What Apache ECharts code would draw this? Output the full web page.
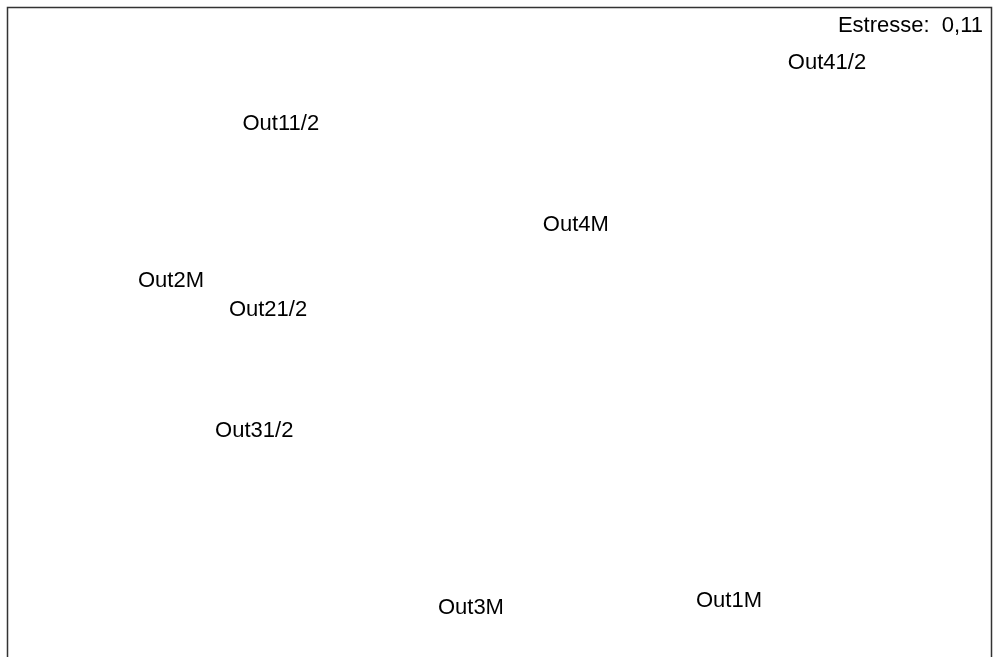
<!DOCTYPE html>
<html>
<head>
<meta charset="utf-8">
<script src="https://cdn.jsdelivr.net/npm/echarts@6/dist/echarts.min.js"></script>
<style>
  html, body { margin: 0; padding: 0; background: #fff; }
  #main { width: 996px; height: 657px; }
</style>
</head>
<body>
<div id="main"></div>
<script>
// NMDS scores
const sites = ['Out41/2', 'Out11/2', 'Out4M', 'Out2M', 'Out21/2', 'Out31/2', 'Out3M', 'Out1M'];
const nmds1 = [0.665, -0.444, 0.155, -0.667, -0.470, -0.498, -0.058, 0.466];
const nmds2 = [0.662, 0.511, 0.263, 0.125, 0.054, -0.244, -0.680, -0.663];
const stress = '0,11';

const points = sites.map((s, i) => [nmds1[i], nmds2[i], s]);

var myChart = echarts.init(document.getElementById('main'));
myChart.setOption({
  animation: false,
  backgroundColor: '#fff',
  grid: { left: 7, right: 4, top: 7, bottom: 0 },
  xAxis: {
    type: 'value', min: -1, max: 1,
    axisLine: { show: false }, axisTick: { show: false },
    axisLabel: { show: false }, splitLine: { show: false }
  },
  yAxis: {
    type: 'value', min: -0.8, max: 0.8,
    axisLine: { show: false }, axisTick: { show: false },
    axisLabel: { show: false }, splitLine: { show: false }
  },
  graphic: [{
    // plot frame, bottom edge runs off the picture
    type: 'rect',
    shape: { x: 7.5, y: 7.5, width: 984, height: 700 },
    style: { fill: 'none', stroke: '#333', lineWidth: 1.5 },
    silent: true
  }, {
    type: 'text',
    right: 13,
    top: 15,
    style: {
      text: 'Estresse:  ' + stress,
      font: '22px "Liberation Sans", Arial, sans-serif',
      fill: '#000'
    }
  }],
  series: [{
    type: 'scatter',
    data: points,
    symbolSize: 1,
    itemStyle: { color: 'transparent', opacity: 1 },
    label: {
      show: true,
      position: 'inside',
      formatter: p => p.data[2],
      color: '#000',
      opacity: 1,
      fontSize: 22,
      fontFamily: '"Liberation Sans", Arial, sans-serif'
    }
  }]
});
</script>
</body>
</html>
